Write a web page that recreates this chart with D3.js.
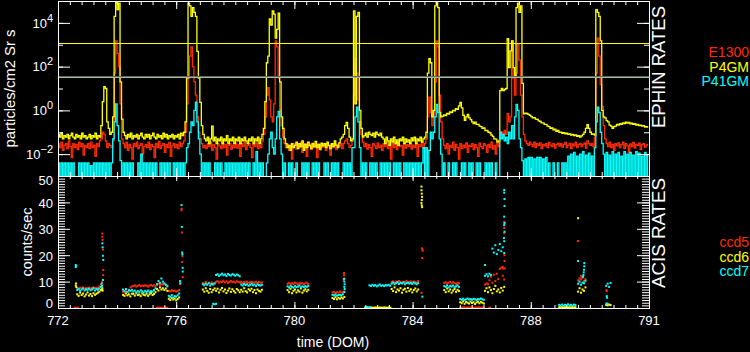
<!DOCTYPE html>
<html>
<head>
<meta charset="utf-8">
<script src="https://cdn.jsdelivr.net/npm/d3@7"></script>
<style>
  body { margin: 0; background: #000; }
  svg { display: block; background: #000; font-family: "Liberation Sans", Arial, sans-serif; }
  text { fill: #fff; }
</style>
</head>
<body>
<svg width="750" height="352"></svg>
<script>
// EPHIN rates (particles/cm2 Sr s), one value every 0.05 day from DOM 772.00, one line per day
const ephinStart = 772, ephinStep = 0.05;
const e1300 = [
  .03,.02,.035,.015,.025,.03,.018,.04,.022,.007,.03,.02,.028,.016,.035,.022,.03,.009,.025,.02,
  .03,.018,.035,.02,.026,.008,.03,.022,.04,.05,.1,.08,.04,.02,.03,.025,.02,.04,50,1500,
  400,100,2,.05,.03,.02,.035,.015,.028,.02,.006,.03,.022,.035,.018,.025,.03,.01,.022,.028,
  .02,.035,.016,.028,.022,.007,.03,.02,.038,.018,.025,.03,.012,.027,.02,.034,.008,.024,.03,.02,
  .028,.018,.035,.022,.03,.04,.1,2,30,300,800,100,20,5,.5,.1,.05,.03,.02,.025,
  .018,.03,.022,.035,.015,.027,.02,.006,.03,.024,.018,.033,.02,.028,.009,.025,.03,.017,.026,.02,
  .032,.019,.027,.008,.03,.022,.035,.016,.025,.03,.02,.007,.028,.022,.033,.018,.026,.02,.04,.08,
  .5,5,11,3,.5,.3,2,1500,800,30,1,.2,.06,.03,.02,.028,.015,.025,.006,.022,
  .03,.017,.026,.02,.034,.012,.024,.03,.008,.022,.028,.016,.032,.02,.025,.007,.03,.018,.026,.021,
  .028,.015,.032,.022,.009,.027,.02,.03,.016,.025,.022,.03,.018,.03,.04,.05,.03,.02,.025,.04,
  5,230,50,3,.3,.08,.035,.022,.03,.017,.027,.02,.008,.03,.024,.018,.032,.02,.026,.015,
  .03,.022,.035,.018,.026,.006,.03,.02,.028,.016,.034,.022,.025,.009,.03,.019,.027,.022,.033,.017,
  .026,.02,.03,.008,.028,.022,.035,.018,.03,.05,.5,4,.8,.2,.5,20,1500,800,5,.3,
  .05,.025,.018,.03,.01,.025,.02,.035,.015,.028,.02,.006,.03,.018,.026,.02,.033,.012,.025,.022,
  .03,.016,.027,.02,.008,.032,.022,.018,.03,.025,.012,.028,.02,.035,.017,.025,.01,.03,.022,.08,
  .1,.06,.12,.08,.7,.3,.5,1500,30,5,50,1000,200,5,.5,.08,.04,.03,.025,.035,
  .028,.022,.035,.02,.03,.025,.033,.018,.028,.024,.03,.02,.034,.026,.022,.03,.019,.027,.032,.023,
  .03,.021,.028,.034,.02,.026,.031,.018,.029,.024,.035,.02,.027,.03,.022,.028,.033,.019,.04,.03,
  .025,.03,.022,.06,50,2000,300,15,1.5,.2,.05,.03,.022,.035,.02,.028,.015,.03,.024,.033,
  .02,.027,.035,.018,.03,.024,.012,.029,.022,.034,.019,.028,.025,.032,.016,.027,.03,.021,.026,.03
];
const p4gm = [
  .08,.06,.09,.05,.07,.06,.08,.05,.07,.09,.06,.05,.08,.06,.07,.05,.09,.06,.07,.05,
  .06,.08,.05,.07,.06,.09,.05,.07,.06,.2,2.5,12,10,.3,.15,.08,.1,.5,2e4,9e4,
  4e4,8e4,20,.4,.1,.07,.05,.08,.06,.09,.05,.07,.06,.08,.05,.07,.09,.06,.05,.08,
  .06,.08,.05,.07,.09,.06,.05,.08,.06,.07,.05,.09,.06,.08,.05,.07,.06,.08,.05,.07,
  .06,.08,.05,.09,.07,.1,.3,30,8e4,6e4,2e4,5e4,3e4,2e4,500,30,2.3,.2,.08,.05,
  .04,.06,.03,.05,.19,.04,.06,.03,.05,.04,.06,.03,.05,.04,.07,.03,.05,.04,.06,.03,
  .05,.04,.06,.03,.05,.04,.06,.04,.03,.05,.04,.06,.03,.05,.04,.06,.03,.05,.08,.15,
  2.5,150,300,1.5e4,8e3,3.5e4,2.5e4,2e3,5e3,2.8e4,20,.5,.15,.05,.03,.02,.025,.015,.03,.02,
  .025,.035,.018,.03,.022,.04,.015,.028,.02,.035,.025,.018,.03,.022,.038,.02,.027,.016,.032,.024,
  .03,.02,.035,.025,.018,.03,.022,.04,.026,.02,.033,.05,.06,.08,.2,.28,.15,.06,.04,.05,
  3.5e4,2,2e4,3e4,1,.15,.06,.07,.09,.06,.1,.08,.07,.09,.06,.1,.08,.07,.09,.06,
  .05,.03,.06,.04,.025,.05,.035,.06,.03,.045,.025,.05,.04,.06,.03,.05,.035,.045,.03,.055,
  .04,.06,.03,.05,.04,.06,.035,.05,.06,.1,50,230,150,.5,1,6e4,1e5,5e4,.8,.5,
  .55,.62,.58,.72,.68,.85,.8,1,.95,1.2,1.1,1.6,2.3,1.3,.6,.35,.5,.65,.45,.38,
  .3,.25,.29,.23,.23,.19,.18,.15,.16,.12,.12,.1,.095,.075,.065,.05,.048,.035,.04,8,
  10,8,9,10,1900,90,530,1500,90,40,5e4,8e4,3e4,6e4,17,.7,.75,.72,.65,.6,
  .52,.46,.47,.4,.39,.33,.31,.27,.27,.23,.23,.19,.18,.15,.16,.13,.14,.11,.12,.1,
  .1,.09,.095,.085,.09,.08,.085,.075,.08,.07,.075,.065,.07,.06,.068,.08,.1,.15,.22,.15,
  .1,.08,.085,.075,4e4,3e4,2e4,1500,1,.5,.45,.34,.3,.21,.19,.15,.18,.19,.23,.21,
  .25,.23,.27,.25,.29,.26,.28,.24,.26,.23,.25,.21,.23,.2,.21,.19,.2,.17,.18,.16
];
const p41gm = [
  4e-3,5e-4,4e-3,5e-4,4e-3,5e-4,4e-3,5e-4,4e-3,5e-4,4e-3,5e-4,5e-4,5e-4,4e-3,5e-4,4e-3,5e-4,4e-3,5e-4,
  4e-3,5e-4,3e-3,5e-4,4e-3,5e-4,4e-3,5e-4,4e-3,5e-4,4e-3,5e-4,4e-3,5e-4,4e-3,5e-4,4e-3,.05,.3,2,
  .2,.04,5e-3,5e-4,4e-3,5e-4,4e-3,5e-4,4e-3,5e-4,4e-3,5e-4,5e-4,5e-4,4e-3,5e-4,.01,5e-4,4e-3,5e-4,
  4e-3,5e-4,4e-3,5e-4,4e-3,5e-4,4e-3,5e-4,5e-4,4e-3,5e-4,4e-3,5e-4,4e-3,5e-4,4e-3,5e-4,5e-4,4e-3,5e-4,
  4e-3,5e-4,4e-3,5e-4,4e-3,5e-4,4e-3,.02,.03,.1,.3,.2,1,2.4,.3,.05,.01,5e-4,4e-3,5e-4,
  4e-3,5e-4,4e-3,5e-4,5e-4,5e-4,4e-3,5e-4,4e-3,5e-4,4e-3,5e-4,5e-4,4e-3,5e-4,4e-3,5e-4,4e-3,5e-4,4e-3,
  5e-4,4e-3,5e-4,4e-3,5e-4,4e-3,5e-4,4e-3,5e-4,4e-3,5e-4,5e-4,4e-3,5e-4,.013,5e-4,4e-3,5e-4,4e-3,5e-4,
  5e-4,4e-3,.01,.05,.1,.02,.01,.05,.5,.9,.05,.01,5e-4,4e-3,5e-4,5e-4,4e-3,5e-4,4e-3,5e-4,
  5e-4,4e-3,5e-4,5e-4,5e-4,4e-3,5e-4,4e-3,5e-4,4e-3,5e-4,5e-4,4e-3,5e-4,4e-3,5e-4,4e-3,5e-4,5e-4,5e-4,
  4e-3,5e-4,4e-3,5e-4,5e-4,4e-3,5e-4,4e-3,5e-4,4e-3,5e-4,5e-4,5e-4,4e-3,5e-4,4e-3,5e-4,4e-3,5e-4,.02,
  .02,.5,1.4,.3,.02,5e-4,4e-3,5e-4,4e-3,5e-4,5e-4,4e-3,5e-4,4e-3,5e-4,4e-3,5e-4,5e-4,4e-3,5e-4,
  4e-3,5e-4,4e-3,5e-4,4e-3,5e-4,5e-4,4e-3,5e-4,4e-3,5e-4,4e-3,5e-4,5e-4,4e-3,5e-4,4e-3,5e-4,4e-3,5e-4,
  4e-3,5e-4,4e-3,5e-4,4e-3,5e-4,4e-3,.02,5e-4,.02,5e-4,.015,.1,.05,.1,.5,1.9,.8,.05,.01,
  5e-4,4e-3,5e-4,5e-4,4e-3,5e-4,5e-4,4e-3,5e-4,4e-3,5e-4,5e-4,5e-4,4e-3,5e-4,4e-3,5e-4,5e-4,4e-3,5e-4,
  4e-3,5e-4,5e-4,4e-3,5e-4,4e-3,5e-4,5e-4,5e-4,4e-3,5e-4,4e-3,5e-4,4e-3,5e-4,5e-4,4e-3,5e-4,5e-4,.1,
  .05,.08,.04,.06,.03,.1,.05,.2,.05,.5,1.9,1,.05,.02,5e-3,5e-4,6e-3,5e-4,7e-3,5e-4,
  7e-3,5e-4,6e-3,5e-4,7e-3,5e-4,7e-3,5e-4,6e-3,5e-4,7e-3,5e-4,4e-3,5e-4,5e-4,4e-3,5e-4,5e-4,4e-3,5e-4,
  5e-4,4e-3,5e-4,4e-3,5e-4,8e-3,5e-4,.01,5e-4,.012,5e-4,8e-3,5e-4,.01,5e-4,.013,5e-4,9e-3,5e-4,.011,
  5e-4,8e-3,5e-4,.02,.3,1.4,.8,.1,.03,.01,5e-4,.012,5e-4,9e-3,5e-4,.013,5e-4,.01,5e-4,.012,
  5e-4,8e-3,5e-4,.013,5e-4,.01,5e-4,.012,5e-4,9e-3,5e-4,.013,5e-4,.011,5e-4,8e-3,5e-4,.012,5e-4,.01
];
// alert limits, drawn as horizontal lines
const p4gmLimit = 1200, p41gmLimit = 34, e1300Limit = 37;

// ACIS rates (counts/sec): runs [start DOM, values every 0.05 day] and loose points [DOM, rate]
const acisStep = 0.05;
const ccd5Runs = [
  [772.57, [.1,.1,.1]],
  [772.65, [7.6,7.4,7.7,7.5,7.8,7.3,7.6,7.5,7.7,7.4,7.6,7.8,7.5,7.7,7.6,8.2,9.0]],
  [774.2, [6.2,6.0,6.4,6.1,6.3,7.8,8.2,8.3,8.6,8.1,8.4,8.7,8.2,8.5,8.3,8.6,8.4,8.1,8.5,8.7,8.3,8.6,8.4,8.8,9.2,8.6,9.0,8.9,9.3,8.7,8.5,6.5,6.3,6.7,6.4,6.6,6.2,6.5,6.8]],
  [775.35, [.1,.1,.1,.1,.1,.1,.1,.1]],
  [776.9, [9.5,9.2,9.8,9.0,9.6,9.3,9.7,9.1,9.4,9.9,10.2,9.6,10.0,9.8,10.3,9.7,10.1,9.5,9.9,10.2,9.8,10.0,9.6,10.1,9.9,9.7,9.8,9.6,9.9,9.7,10.0,9.5,9.8,9.9,9.6,9.7,9.9,9.5,9.8,9.6,9.7]],
  [779.77, [9.2,9.5,9.0,9.4,9.1,9.6,9.3,8.9,9.5,9.2,9.4,9.0,9.3,9.6,9.1]],
  [781.29, [5.9,6.1,5.7,6.0,5.8,6.2,5.9,6.0,6.3]],
  [783.29, [9.8,10.1,9.6,10.0,9.7,10.2,9.9,9.5,10.0,9.8,10.3,9.7,9.9,10.1,9.6,10.0,9.8,9.7,10.2]],
  [785.07, [9.4,9.8,9.2,9.6,9.9,9.3,9.7,9.5,9.1,9.6,9.4]],
  [785.61, [.2,.1,.2,.2,.1,.2,.1,.2,.2,.1,.2,.1,.2,.2,.1,.2,.1]],
  [786.45, [8.9,9.3,9.0,10.5,11.8,9.6,12.6,10.2,13.0,11.0,14.8,15.3,12.2,10.8]],
  [789.6, [10.5,11.2,10.8,11.5,10.2,11.0]]
];
const ccd5Dots = [
  [773.5,28.2],[773.5,27.0],[773.51,25.8],[773.52,22.1],[773.53,14.4],[773.53,12.5],[773.49,9.8],
  [776.13,9.0],[776.18,37.6],[776.18,37.0],[776.19,28.6],[776.2,17.4],[776.21,19.6],[776.22,11.7],
  [781.67,10.6],[781.68,13.3],[781.68,12.4],[781.69,11.2],
  [784.3,5.7],[784.32,22.6],[784.33,22.2],[784.34,21.7],[784.32,18.9],
  [786.6,.1],[786.62,.1],[787.05,15.6],[787.06,15.0],[787.1,32.6],[787.1,30.3],[787.1,28.4],[787.11,20.0],[787.11,17.8],[787.12,15.0],
  [789.6,25.4],[789.7,12.2],[789.72,11.6],
  [790.56,6.8],[790.57,6.4]
];
const ccd6Runs = [
  [772.65, [5.2,4.6,5.8,4.9,5.5,4.4,5.1,5.9,4.7,5.3,4.5,5.6,5.0,5.4,5.8,6.2,6.8]],
  [774.2, [5.0,4.6,5.5,4.8,5.2,4.4,5.4,5.3,4.7,5.6,4.9,5.1,4.5,5.5,5.0,4.8,5.4,4.6,5.2,5.7,4.9,5.3,6.0,7.2,6.6,7.8,7.0,7.5,6.8,7.4,6.5,3.5,3.0,3.8,3.2,3.6,2.9,3.4,4.0]],
  [776.9, [7.0,6.2,7.5,6.5,5.8,7.2,6.0,6.8,7.4,6.5,7.3,5.9,6.9,7.6,6.3,7.0,5.7,6.6,7.4,6.1,7.1,6.4,5.8,7.2,6.7,6.0,6.9,6.2,7.5,6.4,5.9,7.1,6.6,7.3,6.0,6.8,5.6,7.0,6.5,6.2,6.9]],
  [779.77, [6.8,6.0,7.3,5.6,6.5,7.0,5.9,6.7,6.2,7.4,5.8,6.6,7.1,6.3,6.9]],
  [781.29, [3.8,3.4,4.1,3.3,3.9,3.5,4.0,3.6,4.2]],
  [782.4, [.1,.2,.1,.1,.2,.1,.1,.2,.1,.1,.2,.1,.1,.2,.1,.1,.2,.1]],
  [783.29, [7.2,6.4,7.8,6.0,7.0,6.6,7.5,5.8,6.9,7.3,6.2,7.6,6.5,7.1,5.9,6.8,7.4,6.3,7.0]],
  [785.07, [6.8,6.0,7.4,6.3,7.0,5.8,6.6,7.2,6.1,6.9,6.4]],
  [785.61, [2.2,1.8,2.5,1.6,2.3,2.0,1.7,2.4,1.9,2.2,1.5,2.1,2.4,1.8,2.3,2.0,1.7]],
  [786.45, [6.5,7.5,6.0,7.8,6.8,5.6,7.2,8.4,6.3,7.0,5.9,7.6,6.6,8.0]],
  [788.96, [.3,.2,.3,.2,.3,.3,.2,.3,.2,.3,.2,.3]],
  [789.6, [6.2,7.5,5.8,7.0,6.5,7.8]],
  [790.55, [1.2,1.0,1.3,1.1]]
];
const ccd6Dots = [
  [772.6,8.5],[772.61,9.3],[772.62,7.9],
  [773.5,7.5],[773.51,6.6],[773.49,7.0],
  [784.3,46.0],[784.3,44.6],[784.31,43.3],[784.32,42.1],[784.31,40.9],[784.3,39.8],[784.31,38.9],[784.32,38.2],
  [789.6,34.0]
];
const ccd7Runs = [
  [772.65, [6.8,7.2,6.5,7.0,7.4,6.6,7.1,6.9,7.3,6.7,7.0,7.5,6.6,7.2,6.9,7.4,8.0]],
  [774.2, [7.0,6.4,7.2,6.1,6.8,6.5,6.9,6.2,6.6,5.9,6.4,6.0,6.7,6.3,5.8,6.5,6.1,6.6,6.0,6.4,6.2,6.8,7.5,9.0,10.2,9.5,11.2,10.0,9.3,8.8,8.2,4.6,4.2,4.9,4.0,4.5,4.3,4.8,5.5]],
  [776.9, [9.0,8.6,9.2,8.8,9.4,8.5,9.1,8.9,9.3,12.5,12.8,12.2,12.6,13.0,12.4,12.7,12.1,12.9,12.5,12.3,12.8,12.6,12.2,12.7,12.4,12.0,8.9,8.5,9.1,8.7,9.0,8.4,8.8,9.2,8.6,8.9,8.3,9.0,8.7,8.5,8.8]],
  [777.25, [1.6,1.4,1.6]],
  [779.77, [8.2,7.8,8.4,8.0,7.7,8.3,7.9,8.1,8.5,7.8,8.2,7.9,8.3,8.0,8.4]],
  [781.29, [5.0,4.8,5.1,4.7,4.9,5.0,4.8,5.2,6.0]],
  [782.4, [.2,.3,.2,.3]],
  [782.54, [8.6,8.3,8.8,8.4,8.7,8.2,8.5,8.9,8.4,8.6,8.3,8.7,8.5,8.8,8.4,9.2,9.6,9.0,9.4,9.8,9.1,9.5,9.3,9.7,9.0,9.4,9.6,9.2,9.5,9.1,9.7,9.3,9.0,9.4]],
  [785.07, [8.3,8.0,8.6,7.8,8.4,8.1,8.5,7.9,8.2,8.6,8.0]],
  [785.61, [3.4,3.1,3.5,3.0,3.3,3.6,3.2,3.4,3.1,3.5,3.3,3.0,3.4,3.2,3.6,3.3,3.1]],
  [786.45, [12.2,12.8,12.0,13.0,12.5,22.5,21.0,23.8,20.4,22.0,24.2,21.5,23.0,20.8]],
  [788.96, [1.2,1.0,1.3,.9,1.2,1.1,1.4,1.0,1.2,.9,1.3,1.1]],
  [789.6, [9.2,10.0,8.8,9.6,9.4,10.3]],
  [790.55, [8.4,9.2,8.0,9.5]]
];
const ccd7Dots = [
  [772.6,15.5],[772.6,16.3],[772.61,15.9],
  [773.48,9.2],[773.49,8.4],[773.5,24.5],[773.51,23.0],[773.52,19.8],[773.53,18.2],[773.52,10.6],
  [776.13,10.2],[776.14,9.4],[776.18,39.0],[776.19,30.7],[776.2,21.0],[776.21,20.3],[776.22,15.2],[776.22,13.8],
  [781.68,11.0],[781.69,10.0],[781.7,9.0],[781.69,8.0],[781.7,7.2],
  [784.33,4.3],
  [786.45,16.3],[787.1,44.7],[787.1,43.7],[787.11,41.3],[787.11,38.6],[787.1,34.6],[787.11,32.2],[787.1,31.4],[787.11,28.9],[787.09,26.5],[787.1,25.3],
  [789.6,17.8],[789.77,11.8],[789.78,12.5],[789.79,13.5],[789.8,14.5],[789.81,15.8],[789.81,17.0],
  [790.57,4.5],[790.58,3.9],[790.56,1.7],[790.6,1.6]
];

const xTickValues = [772, 776, 780, 784, 788, 792];
const xTickLabels = ["772", "776", "780", "784", "788", "791"];
const ephinDecades = [-2, 0, 2, 4];
const acisTicks = [0, 10, 20, 30, 40, 50];

const red = "#ff2a00", yellow = "#ffff00", cyan = "#00ffff";

const svg = d3.select("svg");
const pLeft = 58, pRight = 649, pTop = 1, pMid = 176, pBottom = 308;

const x = d3.scaleLinear().domain([772, 792]).range([pLeft, pRight]);
const yEphin = d3.scaleLog().domain([1e-3, 1e5]).range([pMid, pTop]);
const yAcis = d3.scaleLinear().domain([0, 50]).range([pBottom, pMid]);

const defs = svg.append("defs");
defs.append("clipPath").attr("id", "clipEphin").append("rect")
    .attr("x", pLeft).attr("y", pTop).attr("width", pRight - pLeft).attr("height", pMid - pTop);
defs.append("clipPath").attr("id", "clipAcis").append("rect")
    .attr("x", pLeft).attr("y", pMid).attr("width", pRight - pLeft).attr("height", pBottom - pMid + 1);

// EPHIN traces (dense data, drawn as steps so each sample is a vertical stroke)
const line = d3.line()
    .x((d, i) => x(ephinStart + i * ephinStep))
    .y(d => yEphin(d))
    .curve(d3.curveStepAfter);

const gE = svg.append("g").attr("clip-path", "url(#clipEphin)");
[[e1300, red], [p4gm, yellow], [p41gm, cyan]].forEach(([vals, c]) => {
  gE.append("path").attr("d", line(vals))
      .attr("fill", "none").attr("stroke", c).attr("stroke-width", 1.3);
});
[[p4gmLimit, yellow], [p41gmLimit, cyan], [e1300Limit, red]].forEach(([v, c]) => {
  const y = Math.round(yEphin(v)) + 0.5;
  svg.append("line").attr("x1", pLeft).attr("x2", pRight).attr("y1", y).attr("y2", y)
      .attr("stroke", c).attr("stroke-width", 1);
});

// ACIS points
const runPoints = runs => runs.flatMap(([t, vals]) => vals.map((v, k) => [t + k * acisStep, v]));
const gA = svg.append("g").attr("clip-path", "url(#clipAcis)");
[[ccd5Runs, ccd5Dots, red], [ccd6Runs, ccd6Dots, yellow], [ccd7Runs, ccd7Dots, cyan]].forEach(([runs, dots, c]) => {
  gA.append("g").selectAll("rect")
      .data(runPoints(runs).concat(dots))
      .join("rect")
      .attr("x", d => x(d[0]) - 1)
      .attr("y", d => yAcis(d[1]) - 1)
      .attr("width", 2).attr("height", 2)
      .attr("fill", c);
});

// frames and ticks
svg.append("rect").attr("x", pLeft + 0.5).attr("y", pTop + 0.5)
    .attr("width", pRight - pLeft).attr("height", pMid - pTop)
    .attr("fill", "none").attr("stroke", "#fff");
svg.append("rect").attr("x", pLeft + 0.5).attr("y", pMid + 0.5)
    .attr("width", pRight - pLeft).attr("height", pBottom - pMid)
    .attr("fill", "none").attr("stroke", "#fff");

function tickRow(axis, transform, values, size) {
  svg.append("g").attr("transform", transform)
      .call(axis.tickValues(values).tickSize(size).tickSizeOuter(0).tickFormat(""))
      .call(g => g.select(".domain").remove())
      .call(g => g.selectAll("line").attr("stroke", "#fff"));
}
const minorX = d3.range(0, 51).map(k => 772 + k * 0.4);
tickRow(d3.axisBottom(x), `translate(0,${pTop})`, minorX, 4);
tickRow(d3.axisBottom(x), `translate(0,${pTop})`, xTickValues, 8);
tickRow(d3.axisTop(x), `translate(0,${pMid})`, minorX, 4);
tickRow(d3.axisTop(x), `translate(0,${pMid})`, xTickValues, 8);
tickRow(d3.axisBottom(x), `translate(0,${pMid})`, minorX, 3);
tickRow(d3.axisBottom(x), `translate(0,${pMid})`, xTickValues, 5);
tickRow(d3.axisTop(x), `translate(0,${pBottom})`, minorX, 3);
tickRow(d3.axisTop(x), `translate(0,${pBottom})`, xTickValues, 6);

const allDecades = d3.range(-3, 6).map(e => Math.pow(10, e));
const majorDecades = ephinDecades.map(e => Math.pow(10, e));
tickRow(d3.axisRight(yEphin), `translate(${pLeft},0)`, allDecades, 5);
tickRow(d3.axisRight(yEphin), `translate(${pLeft},0)`, majorDecades, 12);
tickRow(d3.axisLeft(yEphin), `translate(${pRight},0)`, allDecades, 5);
tickRow(d3.axisLeft(yEphin), `translate(${pRight},0)`, majorDecades, 12);

const minorAcis = d3.range(0, 51);
tickRow(d3.axisRight(yAcis), `translate(${pLeft},0)`, minorAcis, 7);
tickRow(d3.axisRight(yAcis), `translate(${pLeft},0)`, acisTicks, 12);
tickRow(d3.axisLeft(yAcis), `translate(${pRight},0)`, minorAcis, 7);
tickRow(d3.axisLeft(yAcis), `translate(${pRight},0)`, acisTicks, 12);

// tick labels
xTickValues.forEach((v, i) => {
  svg.append("text").attr("x", x(v)).attr("y", 325)
      .attr("text-anchor", "middle").attr("font-size", 13).text(xTickLabels[i]);
});
ephinDecades.forEach(e => {
  const t = svg.append("text").attr("x", 53).attr("y", yEphin(Math.pow(10, e)) + 4.7)
      .attr("text-anchor", "end").attr("font-size", 13);
  t.append("tspan").text("10");
  t.append("tspan").attr("dy", -6).attr("font-size", 11).text(e < 0 ? "\u2212" + (-e) : e);
});
acisTicks.forEach(v => {
  const y = Math.min(Math.max(yAcis(v) + 5.3, 185), 308.3);
  svg.append("text").attr("x", 53).attr("y", y)
      .attr("text-anchor", "end").attr("font-size", 13).text(v);
});

// axis titles
svg.append("text").attr("transform", `translate(15,${(pTop + pMid) / 2}) rotate(-90)`)
    .attr("text-anchor", "middle").attr("font-size", 14)
    .attr("textLength", 118).attr("lengthAdjust", "spacingAndGlyphs")
    .text("particles/cm2 Sr s");
svg.append("text").attr("transform", `translate(32,${(pMid + pBottom) / 2}) rotate(-90)`)
    .attr("text-anchor", "middle").attr("font-size", 14)
    .attr("textLength", 69).attr("lengthAdjust", "spacingAndGlyphs")
    .text("counts/sec");
svg.append("text").attr("x", 333).attr("y", 347)
    .attr("text-anchor", "middle").attr("font-size", 14).text("time (DOM)");

svg.append("text").attr("transform", "translate(665,67) rotate(-90)")
    .attr("text-anchor", "middle").attr("font-size", 18)
    .attr("textLength", 122).attr("lengthAdjust", "spacingAndGlyphs")
    .text("EPHIN RATES");
svg.append("text").attr("transform", "translate(665,233) rotate(-90)")
    .attr("text-anchor", "middle").attr("font-size", 18)
    .attr("textLength", 110).attr("lengthAdjust", "spacingAndGlyphs")
    .text("ACIS RATES");

// legends
[["E1300", red, 57], ["P4GM", yellow, 71.5], ["P41GM", cyan, 86]].forEach(([s, c, y]) => {
  svg.append("text").attr("x", 749).attr("y", y).attr("text-anchor", "end")
      .attr("font-size", 14).style("fill", c).text(s);
});
[["ccd5", red, 247], ["ccd6", yellow, 261.5], ["ccd7", cyan, 276]].forEach(([s, c, y]) => {
  svg.append("text").attr("x", 749).attr("y", y).attr("text-anchor", "end")
      .attr("font-size", 14).style("fill", c).text(s);
});
</script>
</body>
</html>
